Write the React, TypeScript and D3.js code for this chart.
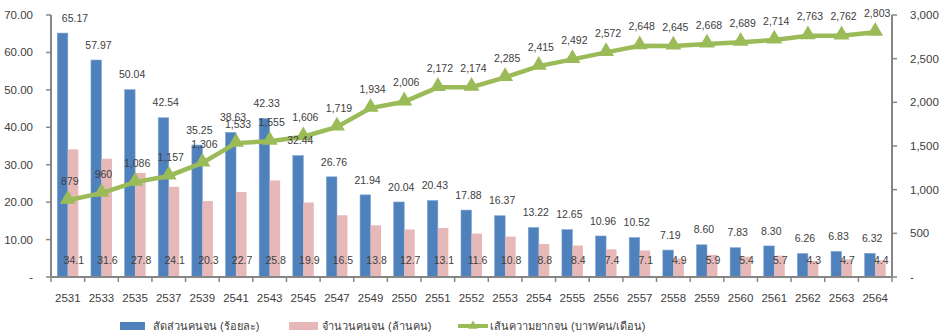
import React from "react";
import * as d3 from "d3";

const years = ["2531","2533","2535","2537","2539","2541","2543","2545","2547","2549","2550","2551","2552","2553","2554","2555","2556","2557","2558","2559","2560","2561","2562","2563","2564"];
const povertyRatio = [65.17,57.97,50.04,42.54,35.25,38.63,42.33,32.44,26.76,21.94,20.04,20.43,17.88,16.37,13.22,12.65,10.96,10.52,7.19,8.60,7.83,8.30,6.26,6.83,6.32];
const poorCount = [34.1,31.6,27.8,24.1,20.3,22.7,25.8,19.9,16.5,13.8,12.7,13.1,11.6,10.8,8.8,8.4,7.4,7.1,4.9,5.9,5.4,5.7,4.3,4.7,4.4];
const povertyLine = [879,960,1086,1157,1306,1533,1555,1606,1719,1934,2006,2172,2174,2285,2415,2492,2572,2648,2645,2668,2689,2714,2763,2762,2803];
const leftTicks = [0,10,20,30,40,50,60,70];
const rightTicks = [0,500,1000,1500,2000,2500,3000];
const legendLabels = ["สัดส่วนคนจน (ร้อยละ)", "จำนวนคนจน (ล้านคน)", "เส้นความยากจน (บาท/คน/เดือน)"];

const W = 941, H = 335;
const M = { left: 51, right: 892, top: 15, bottom: 277 };
const BLUE = "#4F81BD", PINK = "#E6B9B8", GREEN = "#9BBB59";
const AXIS = "#868686", TXT = "#404040";
const FONT = "'Liberation Sans', 'Noto Sans', sans-serif";

export default function App() {
  const x = d3.scaleBand<string>().domain(years).range([M.left, M.right]);
  const yL = d3.scaleLinear().domain([0, 70]).range([M.bottom, M.top]);
  const yR = d3.scaleLinear().domain([0, 3000]).range([M.bottom, M.top]);
  const bw = 10.5;
  const cx = (i: number) => (x(years[i]) as number) + x.bandwidth() / 2;
  const fmtL = (v: number) => (v === 0 ? "-" : d3.format(".2f")(v));
  const fmtR = (v: number) => (v === 0 ? "-" : d3.format(",")(v));
  const line = d3.line<number>().x((_, i) => cx(i)).y((d) => yR(d));
  const tri = d3.symbol().type(d3.symbolTriangle).size(110)();

  return (
    <svg width={W} height={H} style={{ position: "absolute", left: 0, top: 0, fontFamily: FONT }}>
      {povertyRatio.map((v, i) => (
        <rect key={"b" + i} x={cx(i) - bw} y={yL(v)} width={bw} height={yL(0) - yL(v)} fill={BLUE} stroke="#7FA3D1" strokeWidth={0.6} />
      ))}
      {poorCount.map((v, i) => (
        <rect key={"p" + i} x={cx(i)} y={yL(v)} width={bw} height={yL(0) - yL(v)} fill={PINK} />
      ))}
      <line x1={M.left} x2={M.left} y1={M.top} y2={M.bottom} stroke={AXIS} strokeWidth={2} />
      <line x1={M.right} x2={M.right} y1={M.top} y2={M.bottom} stroke={AXIS} strokeWidth={2} />
      <line x1={M.left} x2={M.right} y1={M.bottom} y2={M.bottom} stroke={AXIS} strokeWidth={2} />
      {leftTicks.map((t) => (
        <g key={"lt" + t}>
          <line x1={M.left - 5} x2={M.left} y1={yL(t)} y2={yL(t)} stroke={AXIS} strokeWidth={1.5} />
          <text x={33} y={yL(t)} dy="0.35em" textAnchor="end" fontSize={11.5} fill={TXT}>{fmtL(t)}</text>
        </g>
      ))}
      {rightTicks.map((t) => (
        <g key={"rt" + t}>
          <line x1={M.right} x2={M.right + 5} y1={yR(t)} y2={yR(t)} stroke={AXIS} strokeWidth={1.5} />
          <text x={910} y={yR(t)} dy="0.35em" textAnchor="start" fontSize={11.5} fill={TXT}>{fmtR(t)}</text>
        </g>
      ))}
      {years.map((yv, i) => (
        <g key={"xt" + i}>
          <line x1={x(yv) as number} x2={x(yv) as number} y1={M.bottom} y2={M.bottom + 5} stroke={AXIS} strokeWidth={1.5} />
          <text x={cx(i)} y={298} dy="0.35em" textAnchor="middle" fontSize={11.5} fill={TXT}>{yv}</text>
        </g>
      ))}
      <line x1={M.right} x2={M.right} y1={M.bottom} y2={M.bottom + 5} stroke={AXIS} strokeWidth={1.5} />
      <path d={line(povertyLine) as string} fill="none" stroke={GREEN} strokeWidth={4.5} />
      {povertyLine.map((v, i) => (
        <path key={"m" + i} d={tri as string} transform={`translate(${cx(i)},${yR(v) - 1})`} fill={GREEN} />
      ))}
      {povertyRatio.map((v, i) => (
        <text key={"bl" + i} x={Math.max(cx(i) - 3, M.left + 24)} y={yL(v) - 15} dy="0.35em" textAnchor="middle" fontSize={10.5} fill={TXT}>{d3.format(".2f")(v)}</text>
      ))}
      {poorCount.map((v, i) => (
        <text key={"pl" + i} x={cx(i) + 6} y={260} dy="0.35em" textAnchor="middle" fontSize={10.5} fill={TXT}>{d3.format(".1f")(v)}</text>
      ))}
      {povertyLine.map((v, i) => (
        <text key={"ll" + i} x={cx(i) + 2} y={yR(v) - 19} dy="0.35em" textAnchor="middle" fontSize={10.5} fill={TXT}>{d3.format(",")(v)}</text>
      ))}
      <rect x={120} y={322} width={25} height={8} fill={BLUE} />
      <text x={153} y={326} dy="0.35em" fontSize={11} fill={TXT}>{legendLabels[0]}</text>
      <rect x={289} y={322} width={29} height={8} fill={PINK} />
      <text x={322} y={326} dy="0.35em" fontSize={11} fill={TXT}>{legendLabels[1]}</text>
      <line x1={458} x2={488} y1={326} y2={326} stroke={GREEN} strokeWidth={4} />
      <path d={tri as string} transform="translate(473,326) scale(0.6,0.6)" fill={GREEN} />
      <text x={490} y={326} dy="0.35em" fontSize={11} fill={TXT}>{legendLabels[2]}</text>
    </svg>
  );
}
